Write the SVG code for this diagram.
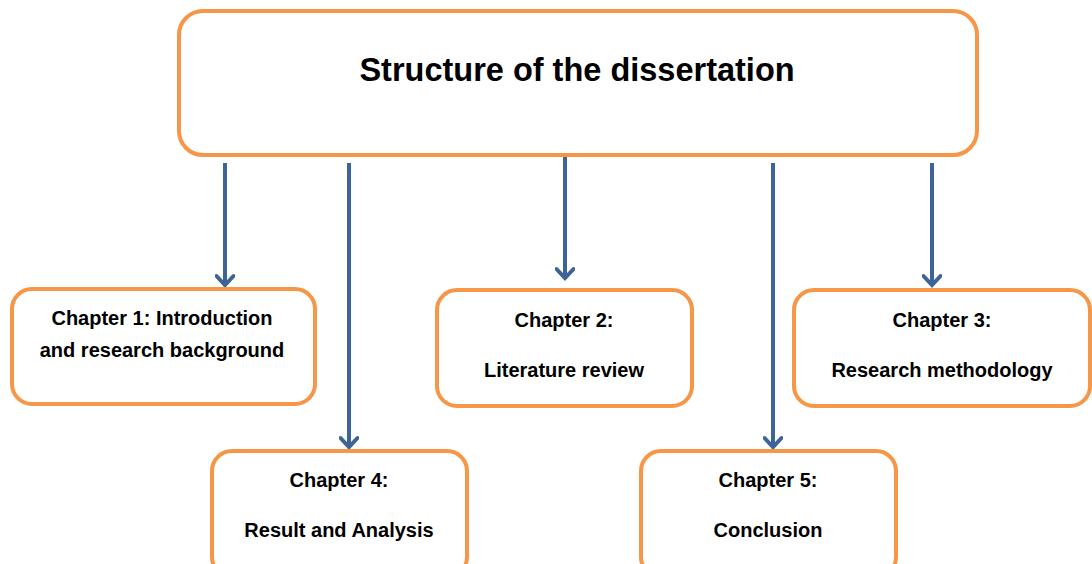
<svg xmlns="http://www.w3.org/2000/svg" width="1092" height="564" viewBox="0 0 1092 564">
  <style>
    .box { fill: #ffffff; stroke: #F79646; stroke-width: 4; }
    .title { font-family: "Liberation Sans", Arial, sans-serif; font-weight: bold; font-size: 32.5px; fill: #000000; text-anchor: middle; }
    .label { font-family: "Liberation Sans", Arial, sans-serif; font-weight: bold; font-size: 20px; fill: #000000; text-anchor: middle; }
    .link { fill: none; stroke: #3C6496; stroke-width: 4; marker-end: url(#arrow); }
  </style>
  <defs>
    <!-- open chevron head, drawn along +x so orient="auto" turns it with the line -->
    <marker id="arrow" viewBox="0 0 20 20" refX="16" refY="10" markerWidth="20" markerHeight="20" markerUnits="userSpaceOnUse" orient="auto">
      <path d="M7,1.5 L16,10 L7,18.5" fill="none" stroke="#3C6496" stroke-width="4" stroke-linecap="round" stroke-linejoin="miter"/>
    </marker>
  </defs>
  <rect width="1092" height="564" fill="#ffffff"/>

  <g id="connectors">
    <line class="link" x1="225" y1="163" x2="225" y2="285"/>
    <line class="link" x1="349" y1="163" x2="349" y2="447"/>
    <line class="link" x1="565" y1="155" x2="565" y2="278"/>
    <line class="link" x1="773" y1="163" x2="773" y2="447"/>
    <line class="link" x1="932" y1="163" x2="932" y2="285"/>
  </g>

  <g id="root">
    <rect class="box" x="179" y="11" width="798" height="144" rx="24"/>
    <text class="title" x="577" y="81">Structure of the dissertation</text>
  </g>

  <g id="chapter1">
    <rect class="box" x="12" y="289" width="303" height="115" rx="20"/>
    <text class="label" x="162" y="325">Chapter 1: Introduction</text>
    <text class="label" x="162" y="357">and research background</text>
  </g>

  <g id="chapter2">
    <rect class="box" x="437" y="290" width="255" height="116" rx="20"/>
    <text class="label" x="564" y="327">Chapter 2:</text>
    <text class="label" x="564" y="377">Literature review</text>
  </g>

  <g id="chapter3">
    <rect class="box" x="794" y="290" width="296" height="116" rx="20"/>
    <text class="label" x="942" y="327">Chapter 3:</text>
    <text class="label" x="942" y="377">Research methodology</text>
  </g>

  <g id="chapter4">
    <rect class="box" x="212" y="451" width="255" height="126" rx="20"/>
    <text class="label" x="339" y="487">Chapter 4:</text>
    <text class="label" x="339" y="537">Result and Analysis</text>
  </g>

  <g id="chapter5">
    <rect class="box" x="641" y="451" width="255" height="126" rx="20"/>
    <text class="label" x="768" y="487">Chapter 5:</text>
    <text class="label" x="768" y="537">Conclusion</text>
  </g>
</svg>
